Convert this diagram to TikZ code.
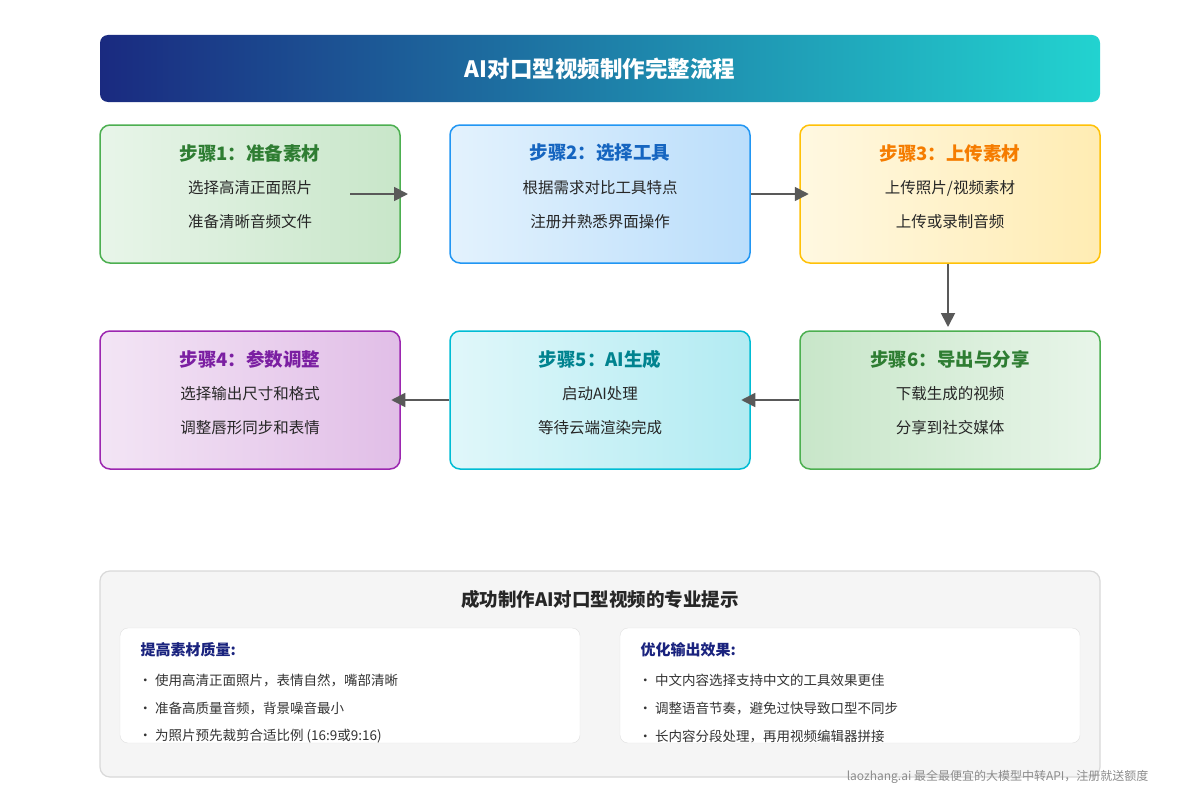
\documentclass[tikz,border=0pt]{standalone}
\usepackage{fontspec}
\setmainfont{Noto Sans CJK SC}
\usetikzlibrary{arrows.meta}
\definecolor{gA}{HTML}{E8F5E9}\definecolor{gB}{HTML}{C8E6C9}\definecolor{gE}{HTML}{4CAF50}\definecolor{gT}{HTML}{2E7D32}
\definecolor{bA}{HTML}{E3F2FD}\definecolor{bB}{HTML}{BBDEFB}\definecolor{bE}{HTML}{2196F3}\definecolor{bT}{HTML}{1565C0}
\definecolor{yA}{HTML}{FFF8E1}\definecolor{yB}{HTML}{FFECB3}\definecolor{yE}{HTML}{FFC107}\definecolor{yT}{HTML}{F57C00}
\definecolor{pA}{HTML}{F3E5F5}\definecolor{pB}{HTML}{E1BEE7}\definecolor{pE}{HTML}{9C27B0}\definecolor{pT}{HTML}{7B1FA2}
\definecolor{cA}{HTML}{E0F7FA}\definecolor{cB}{HTML}{B2EBF2}\definecolor{cE}{HTML}{00BCD4}\definecolor{cT}{HTML}{00838F}
\definecolor{navy}{HTML}{1A2A80}\definecolor{teal}{HTML}{22D3D0}\definecolor{hd}{HTML}{1A237E}
\tikzset{
 stepbox/.style={rounded corners=10pt,line width=1.5pt,minimum width=300pt,minimum height=138pt,inner sep=0pt},
 ttl/.style={font=\fontsize{18.5}{20}\selectfont\bfseries},
 body/.style={font=\fontsize{15.5}{17}\selectfont,text=black!85},
 arr/.style={-{Triangle[length=14pt,width=14pt]},line width=1.8pt,draw=black!65},
 bul/.style={anchor=west,font=\fontsize{13.5}{15}\selectfont,text=black!80},
}
\begin{document}
\begin{tikzpicture}[x=1pt,y=-1pt]
\useasboundingbox (0,0) rectangle (1200,800);
\fill[white] (0,0) rectangle (1200,800);
\shade[left color=navy,right color=teal,rounded corners=8pt] (100,35) rectangle (1100,102);
\node[text=white,font=\fontsize{22.5}{24}\selectfont\bfseries] (title) at (600,69) {AI对口型视频制作完整流程};
\node[stepbox,draw=gE,left color=gA,right color=gB] (b1) at (250,194) {};
\node[stepbox,draw=bE,left color=bA,right color=bB] (b2) at (600,194) {};
\node[stepbox,draw=yE,left color=yA,right color=yB] (b3) at (950,194) {};
\node[stepbox,draw=pE,left color=pA,right color=pB] (b4) at (250,400) {};
\node[stepbox,draw=cE,left color=cA,right color=cB] (b5) at (600,400) {};
\node[stepbox,draw=gE,left color=gB,right color=gA] (b6) at (950,400) {};
\node[ttl,text=gT] (t1) at (250,153) {步骤1：准备素材};
\node[body] (l1a) at (250,188) {选择高清正面照片};
\node[body] (l1b) at (250,222) {准备清晰音频文件};
\node[ttl,text=bT] (t2) at (600,153) {步骤2：选择工具};
\node[body] (l2a) at (600,188) {根据需求对比工具特点};
\node[body] (l2b) at (600,222) {注册并熟悉界面操作};
\node[ttl,text=yT] (t3) at (950,153) {步骤3：上传素材};
\node[body] (l3a) at (950,188) {上传照片/视频素材};
\node[body] (l3b) at (950,222) {上传或录制音频};
\node[ttl,text=pT] (t4) at (250,359) {步骤4：参数调整};
\node[body] (l4a) at (250,394) {选择输出尺寸和格式};
\node[body] (l4b) at (250,428) {调整唇形同步和表情};
\node[ttl,text=cT] (t5) at (600,359) {步骤5：AI生成};
\node[body] (l5a) at (600,394) {启动AI处理};
\node[body] (l5b) at (600,428) {等待云端渲染完成};
\node[ttl,text=gT] (t6) at (950,359) {步骤6：导出与分享};
\node[body] (l6a) at (950,394) {下载生成的视频};
\node[body] (l6b) at (950,428) {分享到社交媒体};
\coordinate (a1) at (350,194); \coordinate (a1e) at (408,194);
\draw[arr] (a1) -- (a1e);
\draw[arr] (b2.east) -- ++(58,0);
\draw[arr] (b3.south -| 948,0) -- (948,327);
\draw[arr] (b6.west) -- ++(-58,0);
\draw[arr] (b5.west) -- ++(-58,0);
\node[draw=black!15,fill=black!4,rounded corners=10pt,line width=1.2pt,minimum width=1000pt,minimum height=206pt] (tips) at (600,674) {};
\node[font=\fontsize{18.5}{20}\selectfont\bfseries,text=black!85] (tt) at (600,599) {成功制作AI对口型视频的专业提示};
\node[draw=black!12,fill=white,rounded corners=8pt,minimum width=460pt,minimum height=115pt] (p1) at (350,685.5) {};
\node[draw=black!12,fill=white,rounded corners=8pt,minimum width=460pt,minimum height=115pt] (p2) at (850,685.5) {};
\node[anchor=west,font=\fontsize{15}{17}\selectfont\bfseries,text=hd] (h1) at (137,650) {提高素材质量:};
\node[bul] (s1) at (135,680) {• 使用高清正面照片，表情自然，嘴部清晰};
\node[bul] (s2) at (135,708) {• 准备高质量音频，背景噪音最小};
\node[bul] (s3) at (135,736) {• 为照片预先裁剪合适比例 (16:9或9:16)};
\node[anchor=west,font=\fontsize{15}{17}\selectfont\bfseries,text=hd] (h2) at (637,650) {优化输出效果:};
\node[bul] (r1) at (635,680) {• 中文内容选择支持中文的工具效果更佳};
\node[bul] (r2) at (635,708) {• 调整语音节奏，避免过快导致口型不同步};
\node[bul] (r3) at (635,736) {• 长内容分段处理，再用视频编辑器拼接};
\node[anchor=east,font=\fontsize{12}{13}\selectfont,text=black!45] (ft) at (1152,777) {laozhang.ai 最全最便宜的大模型中转API，注册就送额度};
\end{tikzpicture}
\end{document}
